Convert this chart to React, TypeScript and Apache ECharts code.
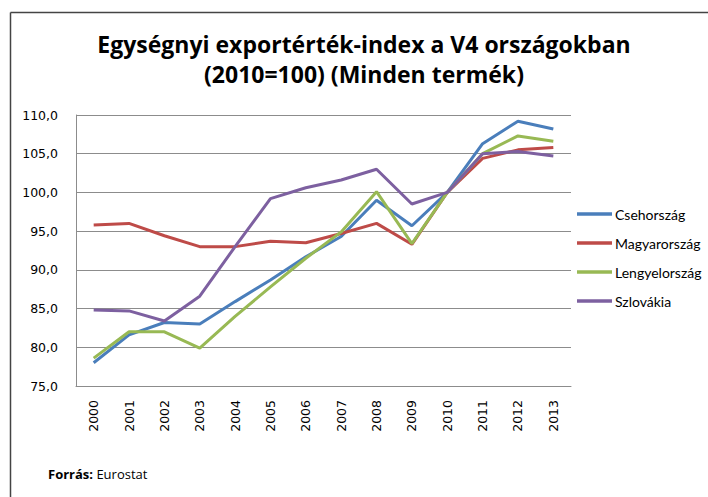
import React, { useEffect, useRef } from "react";
import * as echarts from "echarts";

const years = ["2000","2001","2002","2003","2004","2005","2006","2007","2008","2009","2010","2011","2012","2013"];
const cseh = [78.0, 81.6, 83.2, 83.0, 85.9, 88.7, 91.7, 94.3, 99.0, 95.7, 100.0, 106.3, 109.2, 108.2];
const magyar = [95.8, 96.0, 94.4, 93.0, 93.0, 93.7, 93.5, 94.7, 96.0, 93.3, 100.0, 104.4, 105.5, 105.8];
const lengyel = [78.6, 82.0, 82.0, 79.9, 84.0, 87.8, 91.5, 94.9, 100.1, 93.4, 100.0, 105.0, 107.3, 106.6];
const szlovak = [84.8, 84.7, 83.4, 86.6, 93.0, 99.2, 100.6, 101.6, 103.0, 98.5, 100.0, 105.0, 105.3, 104.7];
const seriesNames = ["Csehország", "Magyarország", "Lengyelország", "Szlovákia"];
const seriesColors = ["#4A7EBB", "#BE4B48", "#98B954", "#7D60A0"];
const titleText = "Egységnyi exportérték-index a V4 országokban\n(2010=100) (Minden termék)";

export default function App() {
  const ref = useRef<HTMLDivElement>(null);
  useEffect(() => {
    if (!ref.current) return;
    const chart = echarts.init(ref.current, null, { renderer: "svg" });
    const data = [cseh, magyar, lengyel, szlovak];
    chart.setOption({
      animation: false,
      backgroundColor: "#ffffff",
      title: {
        text: titleText,
        left: 364,
        top: 29,
        padding: 0,
        textAlign: "center",
        textStyle: {
          fontFamily: "Open Sans",
          fontWeight: "bold",
          fontSize: 23,
          lineHeight: 30,
          color: "#000000",
        },
      },
      legend: {
        orient: "vertical",
        left: 577,
        top: 207,
        padding: 0,
        icon: "rect",
        itemWidth: 35,
        itemHeight: 3.5,
        itemGap: 15,
        data: seriesNames,
        textStyle: { fontFamily: "Lato", fontSize: 14, color: "#000000", padding: [0, 0, 0, -2] },
      },
      grid: { left: 76, right: 137, top: 115, bottom: 111, containLabel: false },
      xAxis: {
        type: "category",
        data: years,
        boundaryGap: true,
        axisLine: { show: true, lineStyle: { color: "#8c8c8c", width: 1 } },
        axisTick: { show: false },
        axisLabel: {
          rotate: 90,
          margin: 14,
          fontFamily: "DejaVu Sans",
          fontSize: 12.5,
          color: "#000000",
        },
      },
      yAxis: {
        type: "value",
        min: 75,
        max: 110,
        interval: 5,
        axisLine: { show: true, lineStyle: { color: "#8c8c8c", width: 1 } },
        axisTick: { show: false },
        splitLine: { show: true, lineStyle: { color: "#8c8c8c", width: 1 } },
        axisLabel: {
          margin: 18,
          fontFamily: "DejaVu Sans",
          fontSize: 12.5,
          color: "#000000",
          formatter: (v: number) => v.toFixed(1).replace(".", ","),
        },
      },
      series: seriesNames.map((name, i) => ({
        name,
        type: "line",
        data: data[i],
        symbol: "none",
        color: seriesColors[i],
        lineStyle: { width: 3, color: seriesColors[i] },
      })),
      graphic: [
        {
          type: "line",
          shape: { x1: 10.5, y1: 12.5, x2: 10.5, y2: 497 },
          style: { stroke: "#444444", lineWidth: 1.5 },
        },
        {
          type: "line",
          shape: { x1: 10.5, y1: 12.5, x2: 708, y2: 12.5 },
          style: { stroke: "#444444", lineWidth: 1.5 },
        },
        {
          type: "text",
          x: 48,
          y: 467,
          style: {
            text: "{b|Forrás:} Eurostat",
            fontFamily: "Open Sans",
            fontSize: 13,
            fill: "#000000",
            rich: { b: { fontWeight: "bold", fontFamily: "Open Sans", fontSize: 13 } },
          },
        },
      ],
    });
    return () => chart.dispose();
  }, []);
  return (
    <div
      ref={ref}
      style={{ position: "fixed", left: 0, top: 0, width: 708, height: 497 }}
    />
  );
}
